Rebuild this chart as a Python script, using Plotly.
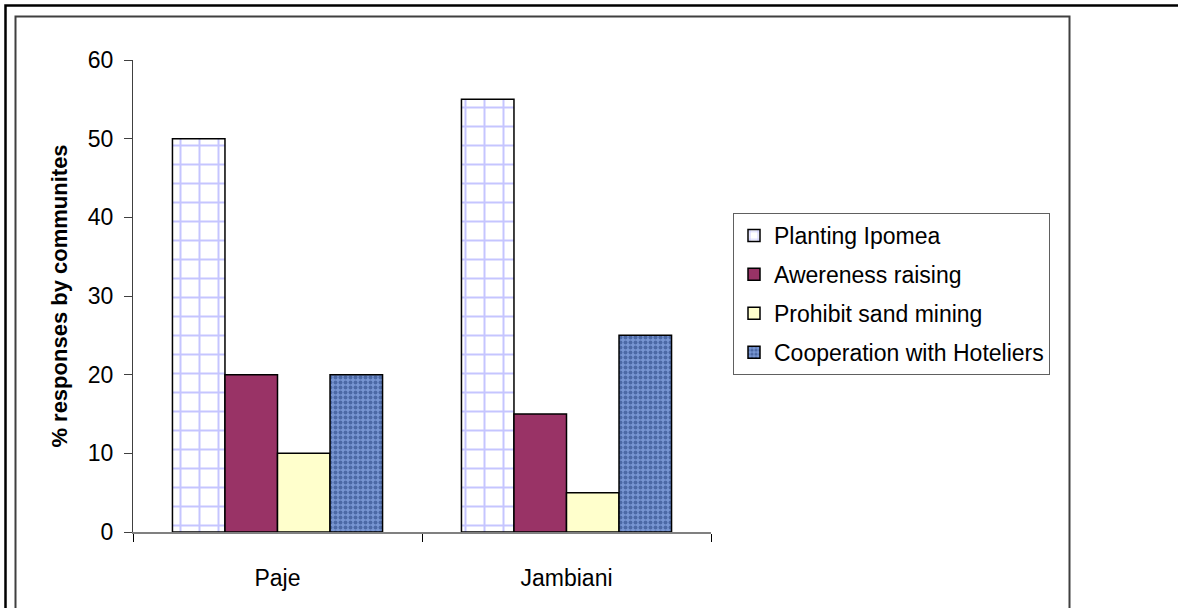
import plotly.graph_objects as go

categories = ["Paje", "Jambiani"]
series_names = ["Planting Ipomea", "Awereness raising", "Prohibit sand mining", "Cooperation with Hoteliers"]
planting_ipomea = [50, 55]
awereness_raising = [20, 15]
prohibit_sand_mining = [10, 5]
cooperation_hoteliers = [20, 25]
y_ticks = [0, 10, 20, 30, 40, 50, 60]

W, H = 1178, 608
L, R, T, B = 133, 711, 60, 532  # plot area in pixels


def px_x(p):
    return (p - L) / (R - L)


def px_y(p):
    return (B - p) / (B - T)


FONT = "Liberation Sans, Arial, sans-serif"

styles = [
    dict(color="white", pattern=dict(shape="+", fgcolor="#8C8CFF", size=19, solidity=0.2, fillmode="overlay")),
    dict(color="#993366"),
    dict(color="#FFFFCC"),
    dict(color="#7896D2", pattern=dict(shape=".", fgcolor="#1F3C78", size=5, solidity=0.5, fillmode="overlay")),
]
values = [planting_ipomea, awereness_raising, prohibit_sand_mining, cooperation_hoteliers]

fig = go.Figure()
for i, (name, vals, st) in enumerate(zip(series_names, values, styles)):
    fig.add_trace(go.Bar(
        x=categories, y=vals, name=name, legendgroup=f"g{i}",
        marker=dict(line=dict(color="black", width=1.5), **st),
    ))

fig.update_layout(
    width=W, height=H,
    margin=dict(l=L, r=W - R, t=T, b=H - B),
    paper_bgcolor="white", plot_bgcolor="white",
    barmode="group", bargap=0.273, bargroupgap=0,
    font=dict(family=FONT, size=23, color="black"),
    showlegend=True,
    legend=dict(
        x=px_x(733), y=px_y(213), xanchor="left", yanchor="top",
        bordercolor="#606060", borderwidth=1, bgcolor="white",
        font=dict(family=FONT, size=23, color="black"),
        itemwidth=30, tracegroupgap=6, traceorder="grouped",
    ),
    xaxis=dict(
        showline=True, linecolor="#808080", linewidth=2,
        ticks="outside", tickson="boundaries", ticklen=8, tickcolor="black", tickwidth=1,
        ticklabelstandoff=24, showgrid=False, zeroline=False,
    ),
    yaxis=dict(
        range=[0, 60], tickvals=y_ticks, showline=True, linecolor="#404040", linewidth=1,
        ticks="outside", ticklen=8, tickcolor="#404040", tickwidth=1,
        ticklabelstandoff=6, showgrid=False, zeroline=False,
        title=dict(text="<b>% responses by communites</b>", standoff=14,
                   font=dict(family=FONT, size=22, color="black")),
    ),
    shapes=[
        dict(type="rect", xref="paper", yref="paper",
             x0=px_x(5.5), y0=px_y(650), x1=px_x(1250), y1=px_y(5.5),
             line=dict(color="black", width=2.5), fillcolor="rgba(0,0,0,0)", layer="above"),
        dict(type="rect", xref="paper", yref="paper",
             x0=px_x(15.5), y0=px_y(640), x1=px_x(1069.5), y1=px_y(16.5),
             line=dict(color="#404040", width=2), fillcolor="rgba(0,0,0,0)", layer="above"),
    ],
)

fig.write_html(
    "out.html",
    config={"displayModeBar": False},
    post_script="document.body.style.margin='0';document.body.style.overflow='hidden';",
)
